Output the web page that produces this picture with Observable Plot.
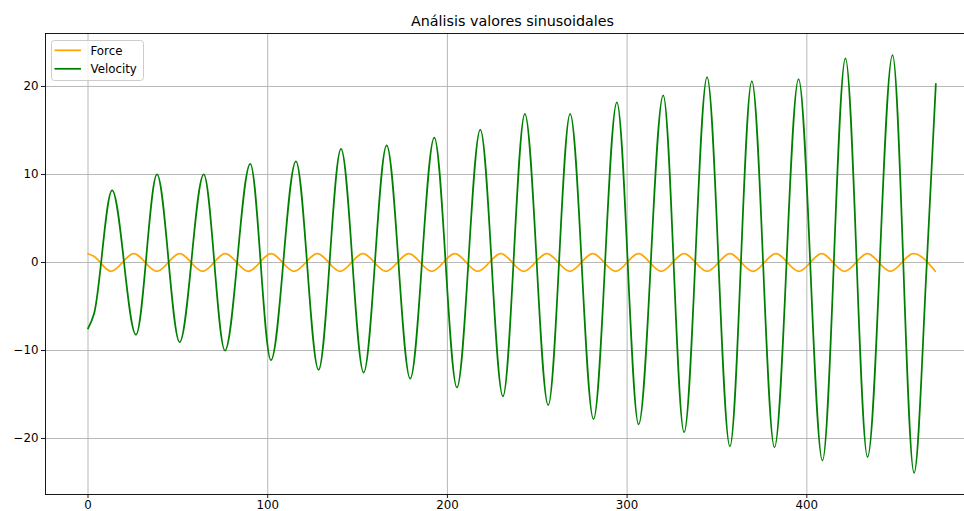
<!DOCTYPE html>
<html>
<head>
<meta charset="utf-8">
<script src="https://cdn.jsdelivr.net/npm/d3@7"></script>
<script src="https://cdn.jsdelivr.net/npm/@observablehq/plot@0.6"></script>
<style>
  html, body { margin: 0; padding: 0; background: white; }
  #wrap { position: relative; width: 964px; height: 511px; overflow: hidden; }
  #wrap svg.overlay { position: absolute; left: 0; top: 0; pointer-events: none; }
</style>
</head>
<body>
<div id="wrap"></div>
<script>
// ---- Data ----
const title = "Análisis valores sinusoidales";
const seriesNames = ["Force", "Velocity"];
const seriesColors = ["orange", "green"];

// Force: extrema (plus one start point)
const forceX = [0, 3.2, 12.8, 25.5, 38.3, 51.0, 63.8, 76.4, 89.2, 101.9, 114.7, 127.6, 140.3, 153.0, 165.8, 178.5, 191.3, 204.1, 216.9, 229.7, 242.5, 255.3, 268.1, 280.9, 293.6, 306.3, 319.0, 331.7, 344.5, 357.2, 370.0, 382.8, 395.6, 408.3, 421.0, 433.7, 446.5, 459.3, 471.5];
const forceY = [1, 0.71, -1, 1, -1, 1, -1, 1, -1, 1, -1, 1, -1, 1, -1, 1, -1, 1, -1, 1, -1, 1, -1, 1, -1, 1, -1, 1, -1, 1, -1, 1, -1, 1, -1, 1, -1, 1, -1];

// Velocity: extrema (plus start / end points)
const velX = [0, 3.4, 13.4, 26.7, 38.4, 51.0, 64.4, 76.2, 90.3, 101.8, 115.7, 128.3, 140.8, 153.4, 166.2, 179.3, 192.7, 205.3, 218.3, 230.9, 243.1, 256.1, 268.3, 281.3, 294.3, 306.4, 320.1, 331.7, 344.5, 357.2, 369.4, 382.0, 395.4, 408.7, 421.5, 433.8, 447.7, 459.7, 466.8, 471.8];
const velY = [-7.5, -5.8, 8.2, -8.2, 10.0, -9.05, 10.0, -10.0, 11.2, -11.1, 11.5, -12.2, 12.9, -12.5, 13.3, -13.2, 14.2, -14.2, 15.1, -15.2, 16.9, -16.2, 16.9, -17.8, 18.2, -18.4, 19.0, -19.3, 21.05, -20.9, 20.6, -21.0, 20.85, -22.5, 23.2, -22.1, 23.55, -23.9, 0, 20.3];

const xTicks = [0, 100, 200, 300, 400];
const yTicks = [-20, -10, 0, 10, 20];

// ---- Tables built from the arrays ----
const force = forceX.map((x, i) => ({x, y: forceY[i]}));
const velocity = velX.map((x, i) => ({x, y: velY[i]}));

const W = 964, H = 511;
const mL = 45, mT = 33, mB = 17, mR = -16;

const chart = Plot.plot({
  width: W,
  height: H,
  marginLeft: mL,
  marginTop: mT,
  marginBottom: mB,
  marginRight: mR,
  style: {fontFamily: "'DejaVu Sans', sans-serif", fontSize: "11.8px", color: "#000", background: "white", overflow: "hidden"},
  x: {domain: [-23.65, 496.65]},
  y: {domain: [-26.36, 26.02]},
  marks: [
    Plot.gridX(xTicks, {stroke: "#b0b0b0", strokeOpacity: 1, strokeWidth: 0.9}),
    Plot.gridY(yTicks, {stroke: "#b0b0b0", strokeOpacity: 1, strokeWidth: 0.9}),
    Plot.line(force, {x: "x", y: "y", stroke: seriesColors[0], strokeWidth: 1.75, curve: "monotone-x"}),
    Plot.line(velocity, {x: "x", y: "y", stroke: seriesColors[1], strokeWidth: 1.75, curve: "monotone-x"}),
    Plot.frame({stroke: "#000", strokeWidth: 0.9}),
    Plot.axisX(xTicks, {tickSize: 4, tickPadding: 2.6, label: null, stroke: "#000", strokeWidth: 0.9}),
    Plot.axisY(yTicks, {tickSize: 4, tickPadding: 3, label: null, stroke: "#000", strokeWidth: 0.9})
  ]
});

const wrap = document.getElementById("wrap");
wrap.appendChild(chart);

// ---- Title and legend overlay ----
const ov = d3.select(wrap).append("svg")
  .attr("class", "overlay")
  .attr("width", W).attr("height", H)
  .style("font-family", "'DejaVu Sans', sans-serif");

ov.append("text")
  .attr("x", (mL + (W - mR)) / 2)
  .attr("y", 26)
  .attr("text-anchor", "middle")
  .attr("font-size", "14.3px")
  .attr("fill", "#000")
  .text(title);

const lg = ov.append("g");
lg.append("rect")
  .attr("x", 51.5).attr("y", 40.5)
  .attr("width", 92).attr("height", 40)
  .attr("rx", 3).attr("ry", 3)
  .attr("fill", "white").attr("fill-opacity", 0.8)
  .attr("stroke", "#cccccc").attr("stroke-width", 1);

seriesNames.forEach((name, i) => {
  const yy = 50.3 + i * 18.5;
  lg.append("line")
    .attr("x1", 54.5).attr("x2", 81)
    .attr("y1", yy).attr("y2", yy)
    .attr("stroke", seriesColors[i]).attr("stroke-width", 1.75);
  lg.append("text")
    .attr("x", 90.5).attr("y", yy)
    .attr("dy", "0.36em")
    .attr("font-size", "11.8px")
    .attr("fill", "#000")
    .text(name);
});
</script>
</body>
</html>
